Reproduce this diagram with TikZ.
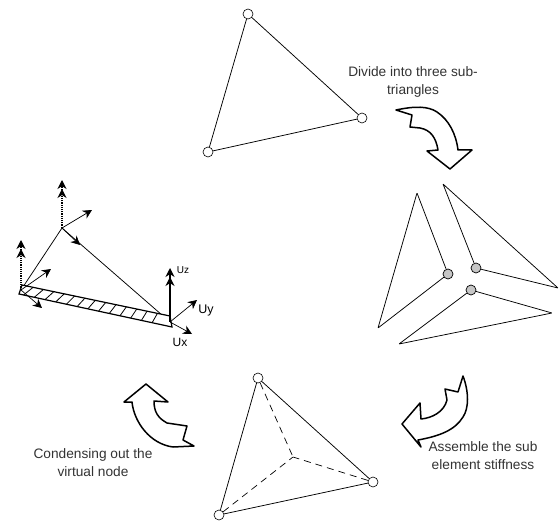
\documentclass[tikz,border=0pt]{standalone}
\usepackage{fontspec}
\setmainfont{Liberation Sans}
\usetikzlibrary{arrows.meta, calc}
\begin{document}
\begin{tikzpicture}[x=1pt, y=-1pt,
  pin/.style={circle, draw, fill=white, line width=0.6pt, minimum size=10pt, inner sep=0pt},
  subpin/.style={circle, draw, fill=gray!45, line width=0.7pt, minimum size=10pt, inner sep=0pt},
  corner/.style={inner sep=0pt, minimum size=0pt},
  edge/.style={line width=0.75pt},
  inner edge/.style={line width=0.7pt, dash pattern=on 7pt off 5pt},
  caption/.style={font=\fontsize{13.7}{18}\selectfont, align=center, text=black!80},
  turn/.style={draw, line width=1.5pt, fill=white, line join=round},
  arr/.style={-{Stealth[length=9pt, width=9pt]}, line width=0.7pt},
  uparr/.style={-{Stealth[length=9pt, width=9pt]Stealth[length=9pt, width=9pt]}, line width=1.2pt, densely dotted},
  dof/.style={font=\fontsize{#1}{#1}\selectfont}
]
\useasboundingbox (0,0) rectangle (559,521);
% whole triangle
\node[pin] (ta) at (248,14) {};
\node[pin] (tb) at (362,118) {};
\node[pin] (tc) at (208,152) {};
\draw[edge] (ta) -- (tb) -- (tc) -- (ta);
\node[caption] (divide) at (413,82) {Divide into three sub-\\triangles};
\draw[turn] (396,110) .. controls (415,106) and (428,106) .. (437,112) .. controls (449,120) and (456,134) .. (458,150)
  -- (472,150) -- (450,169) -- (427,151) -- (438,150) .. controls (436,138) and (431,130) .. (420,128) -- (410,127) -- (412,115) -- cycle;
% sub triangles
\node[corner] (la) at (417,193) {};
\node[subpin] (lb) at (448,274) {};
\node[corner] (lc) at (378,328) {};
\draw[edge] (la) -- (lb) -- (lc) -- (la);
\node[corner] (ra) at (443,184) {};
\node[corner] (rb) at (558,288) {};
\node[subpin] (rc) at (476,268) {};
\draw[edge] (ra) -- (rb) -- (rc) -- (ra);
\node[subpin] (ba) at (471,290) {};
\node[corner] (bb) at (552,313) {};
\node[corner] (bc) at (399,344) {};
\draw[edge] (ba) -- (bb) -- (bc) -- (ba);
\draw[turn] (463,376) .. controls (469,392) and (469,408) .. (463,417) .. controls (455,430) and (440,436) .. (418,440)
  -- (421,447) -- (402,424) -- (420,403) -- (421,419) .. controls (432,418) and (444,412) .. (447,400) -- (445,389) -- (458,392) -- cycle;
\node[caption] (assemble) at (483,456) {Assemble the sub\\element stiffness};
% condensed triangle
\node[pin] (ca) at (258,378) {};
\node[pin] (cb) at (373,482) {};
\node[pin] (cc) at (219,515) {};
\node[corner] (cv) at (293,457) {};
\draw[edge] (ca) -- (cb) -- (cc) -- (ca);
\draw[inner edge] (ca) -- (cv);
\draw[inner edge] (cb) -- (cv);
\draw[inner edge] (cc) -- (cv);
\draw[turn] (146,384) -- (124,402) -- (132,402) .. controls (134,422) and (150,444) .. (173,447) -- (194,446) -- (183,440) -- (187,426)
  -- (167,423) .. controls (158,418) and (154,412) .. (154,401) -- (168,402) -- cycle;
\node[caption] (condense) at (93,463) {Condensing out the\\virtual node};
% element with nodal freedoms
\node[corner] (ea) at (62,228) {};
\node[corner] (eb) at (21,290) {};
\node[corner] (ec) at (170,322) {};
\draw[edge] (ea) -- (eb);
\draw[edge] (ea) -- (ec);
\coordinate (s1) at (22,285);
\coordinate (s2) at (170,316);
\coordinate (s3) at (172,327);
\coordinate (s4) at (19,294);
\draw[line width=1.2pt, fill=white] (s1) -- (s2) -- (s3) -- (s4) -- cycle;
\foreach \t in {0.03,0.10,...,0.94}
  \draw[line width=0.8pt] ($(s4)!\t!(s3)$) -- ($(s1)!\t+0.045!(s2)$);
\coordinate (az) at (62,180);
\coordinate (ay) at (92,210);
\coordinate (ax) at (80,245);
\coordinate (bz) at (21,240);
\coordinate (by) at (51,269);
\coordinate (bx) at (42,308);
\coordinate (cz) at (170,268);
\coordinate (cy) at (197,300);
\coordinate (cx) at (192,334);
\draw[uparr] (ea) -- (az);
\draw[arr] (ea) -- (ay);
\draw[arr] (ea) -- (ax);
\draw[uparr] (eb) -- (bz);
\draw[arr] (eb) -- (by);
\draw[arr] (eb) -- (bx);
\draw[uparr, solid] (ec) -- (cz);
\draw[arr] (ec) -- (cy);
\draw[arr] (ec) -- (cx);
\node[dof=10] (uz) at (183,270) {Uz};
\node[dof=12.5] (uy) at (206,310) {Uy};
\node[dof=12] (ux) at (180,342) {Ux};
\end{tikzpicture}
\end{document}
